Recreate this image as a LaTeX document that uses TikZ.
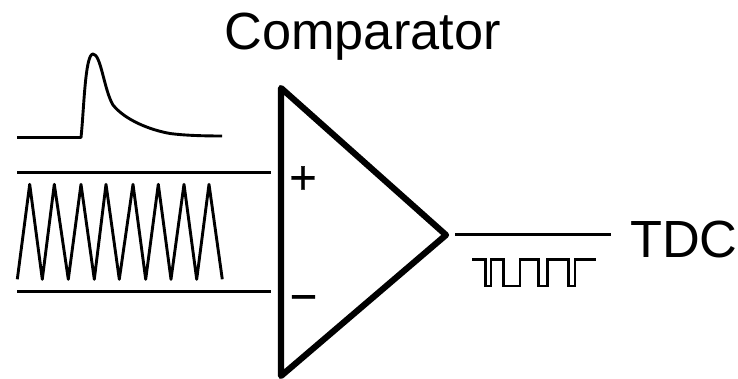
\documentclass[tikz,border=0pt]{standalone}
\usepackage{fontspec}
\setmainfont{Liberation Sans}
\newfontfamily\signfont[FakeBold=0.6]{Liberation Sans}
\tikzset{wire/.style={line width=2.9pt,line join=round},
 pulse/.style={line width=2.5pt,line join=miter},
 lbl/.style={inner sep=0pt,font=\fontsize{52.3}{52}\selectfont},
 sign/.style={inner sep=0pt,font=\signfont\fontsize{47}{47}\selectfont,anchor=base}}
\begin{document}
\begin{tikzpicture}[x=1pt,y=-1pt]
\useasboundingbox (0,0) rectangle (738,379);
\draw[line width=6.2pt,line join=round] (281,88) -- (446,235) -- (281,376) -- cycle;
\node[lbl,anchor=base] (title) at (362.5,50) {Comparator};
\node[lbl,anchor=base west] (tdc) at (630,257) {TDC};
\node[sign] (plus) at (303,193.5) {+};
\node[sign] (minus) at (303.5,312.5) {−};
\coordinate (p1) at (17,172.7); \coordinate (p2) at (271,172.7);
\coordinate (m1) at (17,291.7); \coordinate (m2) at (271,291.7);
\coordinate (o1) at (455.3,234.3); \coordinate (o2) at (611,234.3);
\draw[wire] (p1) -- (p2);
\draw[wire] (m1) -- (m2);
\draw[wire] (o1) -- (o2);
\draw[wire] (17,137.5) -- (81,137.5) .. controls (84,110) and (85,54) .. (93,54)
 .. controls (101,54) and (104,90) .. (113,105)
 .. controls (125,120) and (150,130) .. (170,133.5)
 .. controls (185,135.5) and (205,136) .. (222,136);
\draw[wire] (17.3,279.3) -- (29.7,184.3) -- (42.3,279.3) -- (54.3,184.3) -- (68.3,279.3) -- (81,184.3) -- (94.3,279.3) -- (106,184.3) -- (119.3,279.3) -- (133,184.3) -- (145.7,279.3) -- (158.3,184.3) -- (171,279.3) -- (184,184.3) -- (196.7,279.3) -- (209,184.3) -- (222.3,279.3);
\draw[pulse] (472.3,259.3) -- (485.7,259.3) -- (485.7,286) -- (491,286) -- (491,259.3) -- (503.3,259.3) -- (503.3,286) -- (520,286) -- (520,259.3) -- (538.3,259.3) -- (538.3,286) -- (547.3,286) -- (547.3,259.3) -- (568.3,259.3) -- (568.3,286) -- (575,286) -- (575,259.3) -- (595.7,259.3);
\end{tikzpicture}
\end{document}
